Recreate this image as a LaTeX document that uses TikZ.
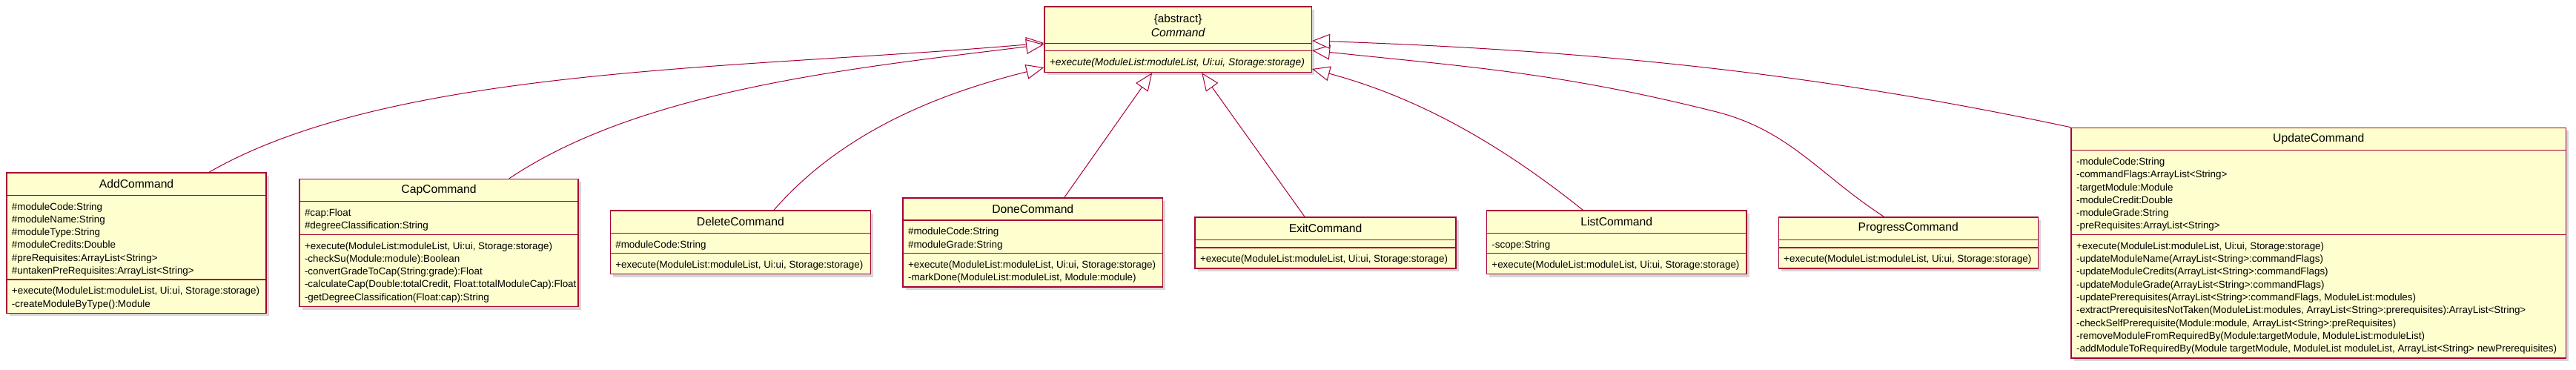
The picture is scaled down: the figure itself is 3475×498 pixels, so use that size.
\documentclass[tikz,border=0pt]{standalone}
\usepackage{fontspec}
\setmainfont{Liberation Sans}
\usetikzlibrary{arrows.meta,calc,shadows}
\definecolor{umlfill}{HTML}{FEFECE}
\definecolor{umlred}{HTML}{A80036}
\tikzset{
 cls/.style={draw=umlred, fill=umlfill, line width=1.5pt, inner sep=0pt,
   drop shadow={shadow xshift=4pt, shadow yshift=-4pt, opacity=0.45, fill=black!35}},
 sep/.style={draw=umlred, line width=1.5pt},
 txt/.style={anchor=base west, inner sep=0pt, font=\fontsize{13.4}{17.3}\selectfont},
 ttl/.style={anchor=center, inner sep=0pt, font=\fontsize{15.7}{19}\selectfont},
 gen/.style={draw=umlred, line width=1pt, -{Triangle[length=24pt,width=20pt,fill=white]}},
}
% #1 name, #2 x, #3 y, #4 width, #5 title, #6 n attrs, #7 n methods, #8 attrs, #9 methods
\newcommand\umlclass[9]{%
  \pgfmathsetmacro\ucA{#6==0 ? 10.5 : 10+17.3*#6}%
  \pgfmathsetmacro\ucM{#7==0 ? 10.5 : 10+17.3*#7}%
  \pgfmathsetmacro\ucT{31}%
  \pgfmathsetmacro\ucH{\ucT+\ucA+\ucM}%
  \node[cls, minimum width=#4pt, minimum height=\ucH pt, anchor=north west] (#1) at (#2,#3) {};
  \draw[sep] ($(#1.north west)+(0,\ucT)$) -- ++(#4,0);
  \draw[sep] ($(#1.north west)+(0,\ucT+\ucA)$) -- ++(#4,0);
  \node[ttl] (#1-t) at ($(#1.north)+(0,\ucT/2)$) {#5};
  \ifnum#6>0
    \foreach \tx [count=\i from 0] in {#8}
      \node[txt] (#1-a\i) at ($(#1.north west)+(7.5,\ucT+19.7+17.3*\i)$) {\tx};
  \fi
  \ifnum#7>0
    \foreach \tx [count=\i from 0] in {#9}
      \node[txt] (#1-m\i) at ($(#1.north west)+(7.5,\ucT+\ucA+19.7+17.3*\i)$) {\tx};
  \fi
}
\begin{document}
\begin{tikzpicture}[x=1pt,y=-1pt]
\useasboundingbox (0,0) rectangle (3475,498);

% abstract Command
\node[cls, minimum width=360.3pt, minimum height=88.7pt, anchor=north west] (cmd) at (1408.2,8) {};
\draw[sep] ($(cmd.north west)+(0,50.3)$) -- ++(360.3,0);
\draw[sep] ($(cmd.north west)+(0,60.3)$) -- ++(360.3,0);
\node[anchor=base, inner sep=0pt, font=\fontsize{15.3}{19}\selectfont] (cmd-s) at ($(cmd.north)+(0,22)$) {\{abstract\}};
\node[anchor=base, inner sep=0pt, font=\fontsize{15.7}{19}\selectfont\itshape] (cmd-t) at ($(cmd.north)+(0,41)$) {Command};
\node[txt, font=\fontsize{13.8}{17.3}\selectfont\itshape] (cmd-m0) at ($(cmd.north west)+(7.5,80)$) {+execute(ModuleList:moduleList, Ui:ui, Storage:storage)};

\umlclass{add}{8.3}{232.3}{350}{AddCommand}{6}{2}
 {\#moduleCode:String,\#moduleName:String,\#moduleType:String,\#moduleCredits:Double,\#preRequisites:ArrayList<String>,\#untakenPreRequisites:ArrayList<String>}
 {{+execute(ModuleList:moduleList, Ui:ui, Storage:storage)},-createModuleByType():Module}

\umlclass{cap}{403.3}{240.7}{376}{CapCommand}{2}{5}
 {\#cap:Float,\#degreeClassification:String}
 {{+execute(ModuleList:moduleList, Ui:ui, Storage:storage)},-checkSu(Module:module):Boolean,-convertGradeToCap(String:grade):Float,{-calculateCap(Double:totalCredit, Float:totalModuleCap):Float},-getDegreeClassification(Float:cap):String}

\umlclass{del}{822.6}{283.3}{351}{DeleteCommand}{1}{1}
 {\#moduleCode:String}
 {{+execute(ModuleList:moduleList, Ui:ui, Storage:storage)}}

\umlclass{done}{1217.4}{266}{350.2}{DoneCommand}{2}{2}
 {\#moduleCode:String,\#moduleGrade:String}
 {{+execute(ModuleList:moduleList, Ui:ui, Storage:storage)},{-markDone(ModuleList:moduleList, Module:module)}}

\umlclass{exit}{1611.3}{292.3}{352}{ExitCommand}{0}{1}
 {}
 {{+execute(ModuleList:moduleList, Ui:ui, Storage:storage)}}

\umlclass{list}{2004.7}{283.3}{350.6}{ListCommand}{1}{1}
 {-scope:String}
 {{+execute(ModuleList:moduleList, Ui:ui, Storage:storage)}}

\umlclass{prog}{2398.5}{292.3}{350}{ProgressCommand}{0}{1}
 {}
 {{+execute(ModuleList:moduleList, Ui:ui, Storage:storage)}}

\umlclass{upd}{2793.4}{171.7}{667.1}{UpdateCommand}{6}{9}
 {-moduleCode:String,-commandFlags:ArrayList<String>,-targetModule:Module,-moduleCredit:Double,-moduleGrade:String,-preRequisites:ArrayList<String>}
 {{+execute(ModuleList:moduleList, Ui:ui, Storage:storage)},-updateModuleName(ArrayList<String>:commandFlags),-updateModuleCredits(ArrayList<String>:commandFlags),-updateModuleGrade(ArrayList<String>:commandFlags),{-updatePrerequisites(ArrayList<String>:commandFlags, ModuleList:modules)},{-extractPrerequisitesNotTaken(ModuleList:modules, ArrayList<String>:prerequisites):ArrayList<String>},{-checkSelfPrerequisite(Module:module, ArrayList<String>:preRequisites)},{-removeModuleFromRequiredBy(Module:targetModule, ModuleList:moduleList)},{-addModuleToRequiredBy(Module targetModule, ModuleList moduleList, ArrayList<String> newPrerequisites)}}

% connector end points
\coordinate (cmd-iA) at ($(cmd.north west)+(0,50)$);
\coordinate (cmd-iC) at ($(cmd.north west)+(0,52)$);
\coordinate (cmd-iD) at ($(cmd.north west)+(0,83)$);
\coordinate (cmd-iDn) at ($(cmd.south west)+(146,0)$);
\coordinate (cmd-iE) at ($(cmd.south west)+(213,0)$);
\coordinate (cmd-iL) at ($(cmd.north east)+(0,85)$);
\coordinate (cmd-iP) at ($(cmd.north east)+(0,60)$);
\coordinate (cmd-iU) at ($(cmd.north east)+(0,47)$);
\coordinate (add-o) at ($(add.north west)+(273.7,0)$);
\coordinate (cap-o) at ($(cap.north west)+(283.7,0)$);
\coordinate (del-o) at ($(del.north west)+(221.4,0)$);
\coordinate (done-o) at ($(done.north west)+(218.6,0)$);
\coordinate (exit-o) at ($(exit.north west)+(148.7,0)$);
\coordinate (list-o) at ($(list.north west)+(130.6,0)$);
\coordinate (prog-o) at ($(prog.north west)+(143,0)$);
\coordinate (prog-v) at ($(prog.north west)+(-86.5,-142.3)$);

\draw[gen] (add-o) .. controls +(250,-144) and +(-400,35) .. (cmd-iA);
\draw[gen] (cap-o) .. controls +(180,-121) and +(-250,31) .. (cmd-iC);
\draw[gen] (del-o) .. controls +(100,-115) and +(-120,30) .. (cmd-iD);
\draw[gen] (done-o) -- (cmd-iDn);
\draw[gen] (exit-o) -- (cmd-iE);
\draw[gen] (list-o) .. controls +(-125,-100) and +(130,35) .. (cmd-iL);
\draw[gen] (prog-o) .. controls +(-88,-57) and +(102,25) .. (prog-v)
                    .. controls +(-209,-52) and +(214,22.5) .. (cmd-iP);
\draw[gen] (upd.north west) .. controls +(-330,-70) and +(404,14) .. (cmd-iU);
\end{tikzpicture}
\end{document}
